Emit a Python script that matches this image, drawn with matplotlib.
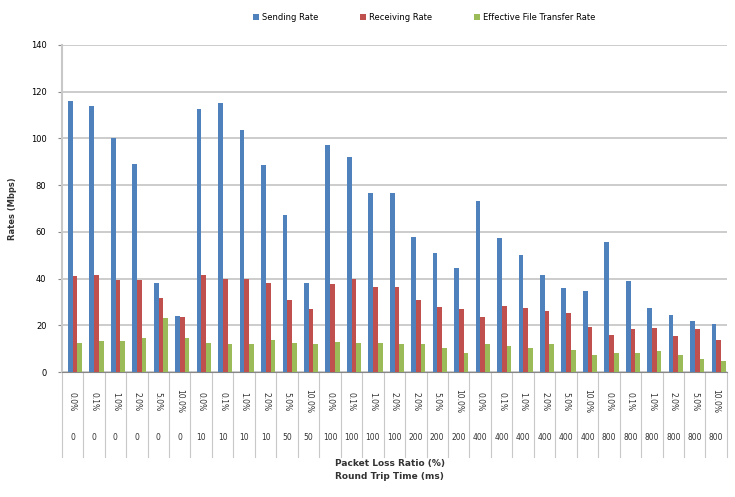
import matplotlib.pyplot as plt
import matplotlib.transforms as mtransforms
import numpy as np

# data (31 categories)
loss_labels = ["0.0%", "0.1%", "1.0%", "2.0%", "5.0%", "10.0%",
               "0.0%", "0.1%", "1.0%", "2.0%", "5.0%", "10.0%",
               "0.0%", "0.1%", "1.0%", "2.0%", "2.0%", "5.0%", "10.0%",
               "0.0%", "0.1%", "1.0%", "2.0%", "5.0%", "10.0%",
               "0.0%", "0.1%", "1.0%", "2.0%", "5.0%", "10.0%"]
rtt_labels = ["0"] * 6 + ["10"] * 4 + ["50"] * 2 + ["100"] * 4 + ["200"] * 3 + ["400"] * 6 + ["800"] * 6

sending = [116, 114, 100, 89, 38, 24,
           112.5, 115, 103.5, 88.5, 67, 38,
           97, 92, 76.5, 76.5, 58, 51, 44.5,
           73, 57.5, 50, 41.5, 36, 34.5,
           55.5, 39, 27.5, 24.5, 22, 20.7]
receiving = [41, 41.5, 39.5, 39.3, 31.5, 23.5,
             41.5, 40, 40, 38, 31, 27,
             37.7, 39.7, 36.3, 36.3, 31, 27.7, 27,
             23.4, 28.4, 27.4, 26, 25.2, 19.3,
             16, 18.2, 18.9, 15.3, 18.2, 13.9]
effective = [12.5, 13.2, 13.2, 14.6, 23, 14.6,
             12.5, 12.2, 12.2, 13.6, 12.5, 12.2,
             12.8, 12.5, 12.5, 12.1, 12.1, 10.4, 8.2,
             12.1, 11.3, 10.4, 11.8, 9.4, 7.1,
             8.2, 8.2, 8.9, 7.1, 5.7, 4.7]

series_names = ["Sending Rate", "Receiving Rate", "Effective File Transfer Rate"]
colors = ["#4F81BD", "#C0504D", "#9BBB59"]

fig = plt.figure(figsize=(7.35, 4.97), dpi=100)
ax = fig.add_axes([0.084, 0.2515, 0.905, 0.658])

x = np.arange(len(sending))
w = 0.22
for k, (vals, name, c) in enumerate(zip([sending, receiving, effective], series_names, colors)):
    ax.bar(x + (k - 1) * w + 0.12, vals, width=w, color=c, label=name, zorder=3)

ax.set_xlim(-0.5, len(x) - 0.5)
ax.set_ylim(0, 140)
ax.set_yticks(np.arange(0, 141, 20))
ax.tick_params(axis="y", labelsize=6, length=3, color="#888888", pad=8)
ax.yaxis.grid(True, color="#C4C4C4", linewidth=1.2, zorder=0)
ax.set_xticks([])
for s in ["top", "right"]:
    ax.spines[s].set_visible(False)
ax.spines["left"].set_color("#C8C8C8")
ax.spines["left"].set_linewidth(1.5)
ax.spines["bottom"].set_color("#888888")

# multi-level category axis, Excel style
trans = mtransforms.blended_transform_factory(ax.transData, ax.transAxes)
for b in np.arange(-0.5, len(x), 1.0):
    ax.plot([b, b], [0, -0.26], transform=trans, color="#C8C8C8", lw=0.8, clip_on=False)
for i in range(len(x)):
    ax.text(i, -0.09, loss_labels[i], transform=trans, rotation=270, ha="center", va="center",
            fontsize=5.5, color="#333333")
    ax.text(i, -0.2, rtt_labels[i], transform=trans, ha="center", va="center",
            fontsize=5.5, color="#333333")

ax.set_ylabel("Rates (Mbps)", fontsize=6, fontweight="bold", labelpad=10, color="#333333")
fig.text(0.53, 0.068, "Packet Loss Ratio (%)", ha="center", va="center", fontsize=6.5,
         fontweight="bold", color="#333333")
fig.text(0.53, 0.042, "Round Trip Time (ms)", ha="center", va="center", fontsize=6.5,
         fontweight="bold", color="#333333")

ax.legend(loc="center", bbox_to_anchor=(0.545, 1.085), ncol=3, frameon=False, fontsize=6,
          handlelength=0.7, handleheight=0.7, columnspacing=5, handletextpad=0.4)

fig.savefig("out.png", dpi=100)
